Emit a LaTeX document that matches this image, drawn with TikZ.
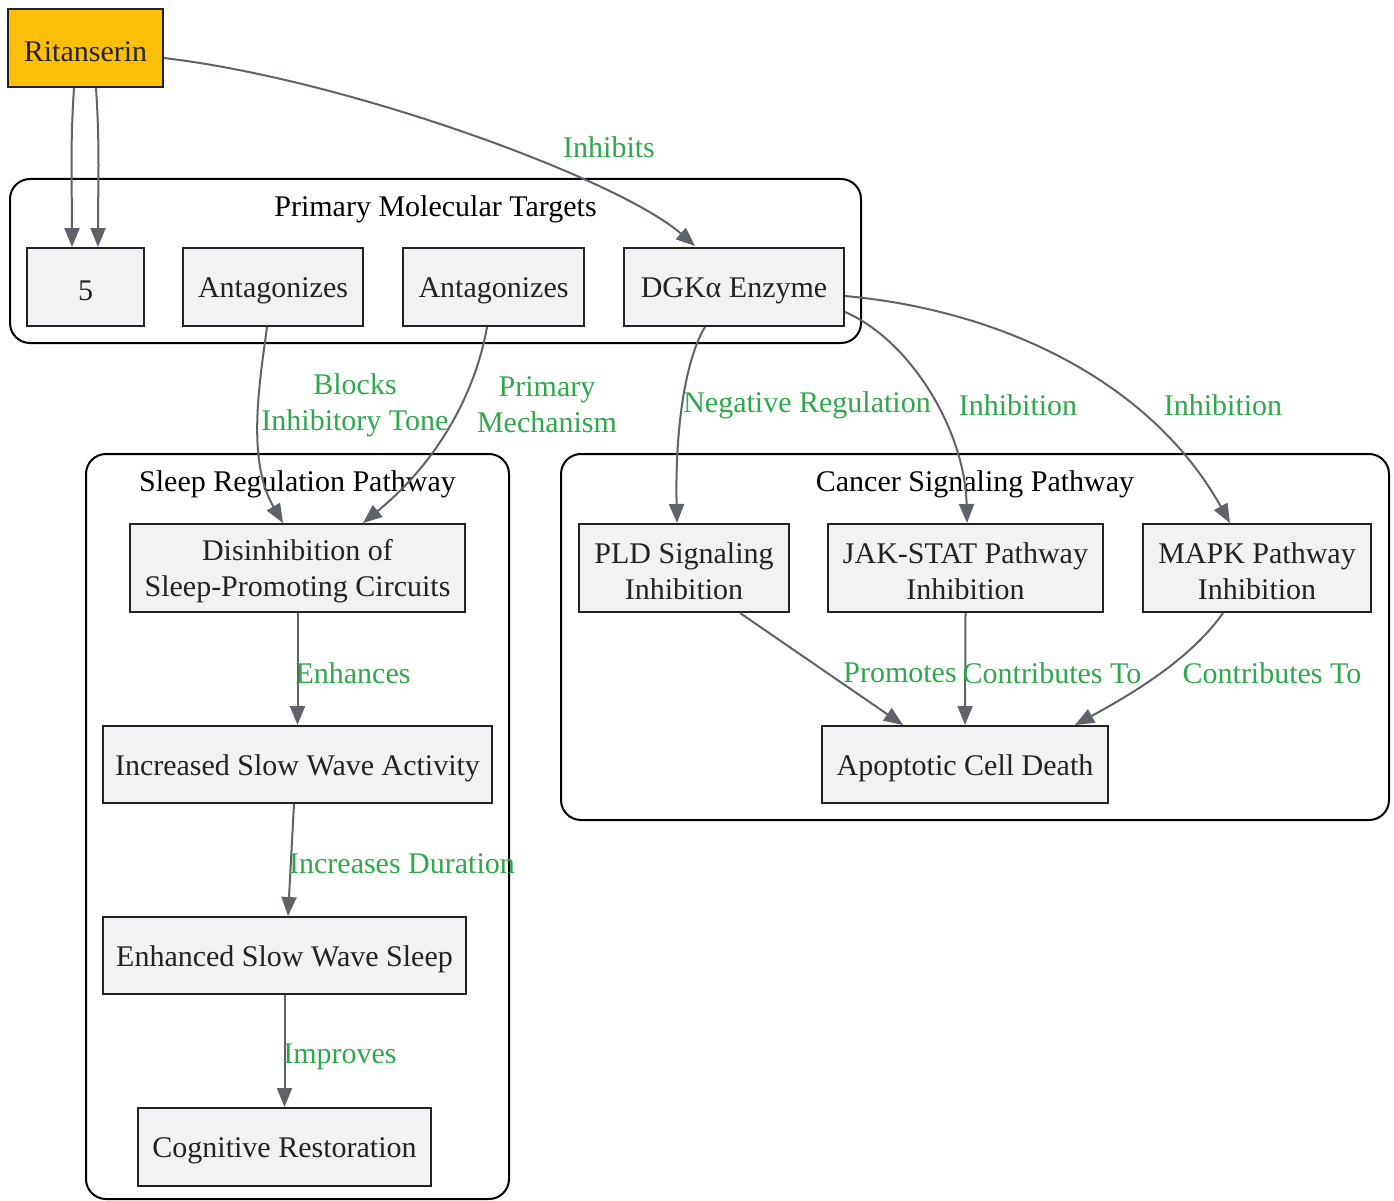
\documentclass[tikz,border=0pt]{standalone}
\usepackage{fontspec}
\setmainfont{Liberation Serif}
\usetikzlibrary{arrows.meta,calc}
\definecolor{edgegray}{HTML}{5F6368}
\definecolor{nodefill}{HTML}{F1F2F4}
\definecolor{ritfill}{HTML}{FBBF08}
\definecolor{labgreen}{HTML}{2EA84A}
\definecolor{txt}{HTML}{222222}
\begin{document}
\begin{tikzpicture}[x=1pt,y=-1pt,
  every node/.style={font=\fontsize{30}{36}\selectfont, inner sep=0pt},
  box/.style={draw=txt, line width=2pt, fill=nodefill, rectangle},
  btext/.style={text=txt, align=center},
  cluster/.style={draw=black, line width=2pt, rounded corners=20pt, fill=white},
  ctitle/.style={text=black},
  conn/.style={draw=edgegray, line width=2pt, -{Triangle[length=19pt,width=15pt]}},
  elabel/.style={text=labgreen, align=center}
]
\useasboundingbox (0,0) rectangle (1394,1201);
\fill[white] (0,0) rectangle (1394,1201);

% clusters
\draw[cluster] (10,179) rectangle (861,343);
\node[ctitle] (t1) at (435.5,209) {Primary Molecular Targets};
\draw[cluster] (86,454) rectangle (509,1199);
\node[ctitle] (t2) at (297.5,484) {Sleep Regulation Pathway};
\draw[cluster] (561,454) rectangle (1389,820);
\node[ctitle] (t3) at (975,484) {Cancer Signaling Pathway};

% nodes (boxes)
\node[box, fill=ritfill, minimum width=155pt, minimum height=78pt] (rit) at (85.5,48) {};
\node[box, minimum width=117pt, minimum height=78pt] (n5) at (85.5,287) {};
\node[box, minimum width=180pt, minimum height=78pt] (ant1) at (273,287) {};
\node[box, minimum width=181pt, minimum height=78pt] (ant2) at (493.5,287) {};
\node[box, minimum width=220pt, minimum height=78pt] (dgk) at (734,287) {};
\node[box, minimum width=335pt, minimum height=88pt] (dis) at (297.5,568) {};
\node[box, minimum width=389pt, minimum height=77pt] (inc) at (297.5,764.5) {};
\node[box, minimum width=363pt, minimum height=77pt] (enh) at (284.5,955.5) {};
\node[box, minimum width=293pt, minimum height=78pt] (cog) at (284.5,1147) {};
\node[box, minimum width=210pt, minimum height=88pt] (pld) at (684,568) {};
\node[box, minimum width=275pt, minimum height=88pt] (jak) at (965.5,568) {};
\node[box, minimum width=228pt, minimum height=88pt] (mapk) at (1257,568) {};
\node[box, minimum width=286pt, minimum height=77pt] (apo) at (965,764.5) {};

% node texts
\node[btext] (rit-t) at ($(rit)+(0,3.5)$) {Ritanserin};
\node[btext] (n5-t) at ($(n5)+(0,3.5)$) {5};
\node[btext] (ant1-t) at ($(ant1)+(0,3.5)$) {Antagonizes};
\node[btext] (ant2-t) at ($(ant2)+(0,3.5)$) {Antagonizes};
\node[btext] (dgk-t) at ($(dgk)+(0,3.5)$) {DGKα Enzyme};
\node[btext] (dis-t) at ($(dis)+(0,3.5)$) {Disinhibition of\\Sleep-Promoting Circuits};
\node[btext] (inc-t) at ($(inc)+(0,3.5)$) {Increased Slow Wave Activity};
\node[btext] (enh-t) at ($(enh)+(0,3.5)$) {Enhanced Slow Wave Sleep};
\node[btext] (cog-t) at ($(cog)+(0,3.5)$) {Cognitive Restoration};
\node[btext] (pld-t) at ($(pld)+(0,3.5)$) {PLD Signaling\\Inhibition};
\node[btext] (jak-t) at ($(jak)+(0,3.5)$) {JAK-STAT Pathway\\Inhibition};
\node[btext] (mapk-t) at ($(mapk)+(0,3.5)$) {MAPK Pathway\\Inhibition};
\node[btext] (apo-t) at ($(apo)+(0,3.5)$) {Apoptotic Cell Death};

% edges
\draw[conn] ($(rit.south)+(-11.5,0)$) .. controls +(-4,60) and +(0,-60) .. ($(n5.north)+(-13.5,0)$);
\draw[conn] ($(rit.south)+(10.5,0)$) .. controls +(4,60) and +(0,-60) .. ($(n5.north)+(12.5,0)$);
\draw[conn] ($(rit.east)+(0,10)$) .. controls (350,80) and (620,180) .. ($(dgk.north)+(-39,-1)$);

\draw[conn] ($(ant1.south)+(-6,0)$) .. controls (260,380) and (246,460) .. ($(dis.north)+(-14.5,0)$);
\draw[conn] ($(ant2.south)+(-6.5,0)$) .. controls (476,390) and (440,460) .. ($(dis.north)+(65.5,0)$);

\draw[conn] ($(dgk.south)+(-29,0)$) .. controls (685,360) and (675,430) .. ($(pld.north)+(-7,0)$);
\draw[conn] ($(dgk.east)+(0,25)$) .. controls (910,340) and (965,430) .. ($(jak.north)+(1.5,0)$);
\draw[conn] ($(dgk.east)+(0,9)$) .. controls (1000,310) and (1150,380) .. ($(mapk.north)+(-27,0)$);

\draw[conn] ($(pld.south)+(56,0)$) -- ($(apo.north)+(-62,0)$);
\draw[conn] (jak.south) -- (apo.north);
\draw[conn] ($(mapk.south)+(-34,0)$) .. controls (1190,660) and (1130,695) .. ($(apo.north)+(110,0)$);

\draw[conn] (dis.south) -- (inc.north);
\draw[conn] ($(inc.south)+(-3.5,0)$) -- ($(enh.north)+(3.5,0)$);
\draw[conn] (enh.south) -- (cog.north);

% edge labels
\node[elabel] (l1) at (609,147) {Inhibits};
\node[elabel] (l2) at (355,405) {Blocks\\Inhibitory Tone};
\node[elabel] (l3) at (547,405) {Primary\\Mechanism};
\node[elabel] (l4) at (807,405) {Negative Regulation};
\node[elabel] (l5) at (1018,405) {Inhibition};
\node[elabel] (l6) at (1223,405) {Inhibition};
\node[elabel] (l7) at (900,673) {Promotes};
\node[elabel] (l8) at (1052,673) {Contributes To};
\node[elabel] (l9) at (1272,673) {Contributes To};
\node[elabel] (l10) at (353,673) {Enhances};
\node[elabel] (l11) at (402,864) {Increases Duration};
\node[elabel] (l12) at (340,1057) {Improves};
\end{tikzpicture}
\end{document}
